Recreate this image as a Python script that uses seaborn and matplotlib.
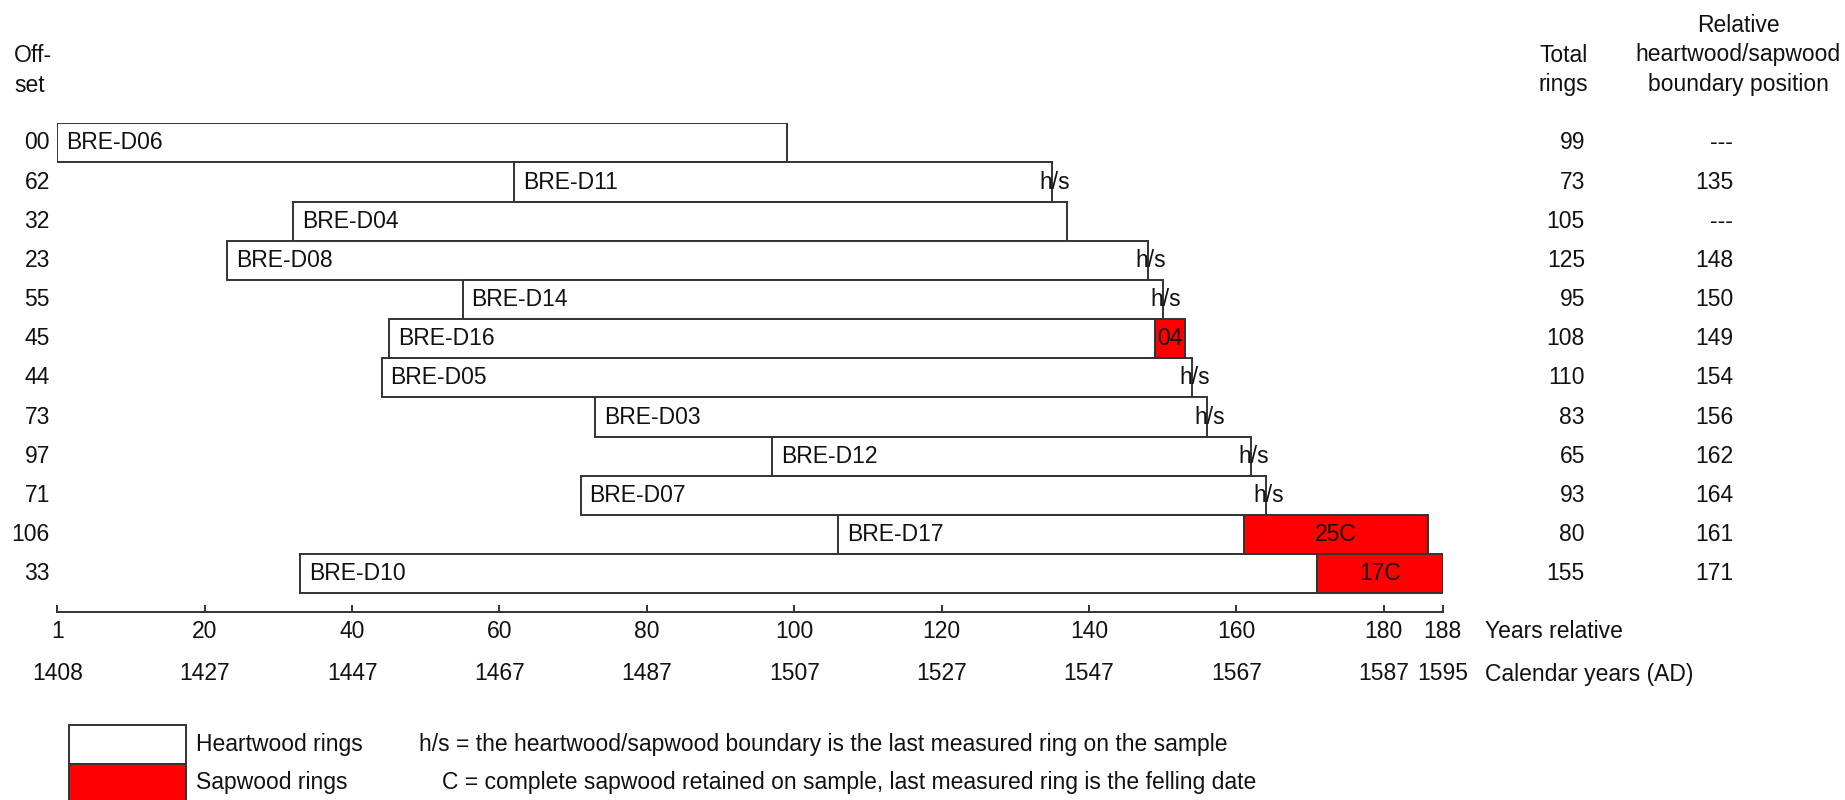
import matplotlib
matplotlib.use('Agg')
import matplotlib.pyplot as plt
from matplotlib.patches import Rectangle
import seaborn as sns

# samples, top to bottom
names = ['BRE-D06', 'BRE-D11', 'BRE-D04', 'BRE-D08', 'BRE-D14', 'BRE-D16',
         'BRE-D05', 'BRE-D03', 'BRE-D12', 'BRE-D07', 'BRE-D17', 'BRE-D10']
offsets = [0, 62, 32, 23, 55, 45, 44, 73, 97, 71, 106, 33]
total_rings = [99, 73, 105, 125, 95, 108, 110, 83, 65, 93, 80, 155]
# relative heartwood/sapwood boundary (None = not present)
boundary = [None, 135, None, 148, 150, 149, 154, 156, 162, 164, 161, 171]
complete_sapwood = [False, False, False, False, False, False,
                    False, False, False, False, True, True]

rel_ticks = [1, 20, 40, 60, 80, 100, 120, 140, 160, 180, 188]
cal_years = [1408, 1427, 1447, 1467, 1487, 1507, 1527, 1547, 1567, 1587, 1595]

W, H = 1845, 800
FS = 16.5
EDGE = '#333333'
TXT = '#111111'

sns.set_theme(style='white')
plt.rcParams['font.family'] = ['Liberation Sans', 'DejaVu Sans']
plt.rcParams['text.color'] = TXT

fig = plt.figure(figsize=(W / 100, H / 100), dpi=100)
fig.patch.set_facecolor('white')

# axes: x 0 -> 57px, 188 -> 1443px ; rows from 123px down to the axis line at 612px
ax = fig.add_axes([57.3 / W, 1 - 612 / H, 1385.4 / W, 488.7 / H])
ax.set_facecolor('none')
n = len(names)
rows = list(range(n))
row_px = 470.0 / n
ax.set_xlim(0, 188)
ax.set_ylim(n - 0.5 + (612 - 593.3) / row_px, -0.5)

ends = [o + t for o, t in zip(offsets, total_rings)]
heart_end = [b if b is not None else e for b, e in zip(boundary, ends)]

ax.barh(rows, [h - o for h, o in zip(heart_end, offsets)], left=offsets,
        height=1.0, color='white', edgecolor=EDGE, linewidth=1.4)

for i in rows:
    sap = ends[i] - heart_end[i]
    if sap > 0:
        ax.barh(i, sap, left=heart_end[i], height=1.0, color='#ff0000',
                edgecolor=EDGE, linewidth=1.4)
        lab = '%02d' % sap + ('C' if complete_sapwood[i] else '')
        ax.text(heart_end[i] + sap / 2, i, lab, ha='center', va='center',
                fontsize=FS)
    elif boundary[i] is not None:
        ax.text(boundary[i] + 0.4, i, 'h/s', ha='center', va='center',
                fontsize=FS)
    ax.text(offsets[i] + 1.2, i, names[i], ha='left', va='center', fontsize=FS)
    ax.text(-1.0, i, '%02d' % offsets[i], ha='right', va='center',
            fontsize=FS, clip_on=False)
    ax.text(207.3, i, str(total_rings[i]), ha='right', va='center',
            fontsize=FS, clip_on=False)
    ax.text(227.4, i, str(boundary[i]) if boundary[i] is not None else '---',
            ha='right', va='center', fontsize=FS, clip_on=False)

# relative year axis
sns.despine(ax=ax, left=True, top=True, right=True)
ax.spines['bottom'].set_color(EDGE)
ax.spines['bottom'].set_linewidth(1.4)
tick_pos = [0 if t == 1 else t for t in rel_ticks]
ax.set_xticks(tick_pos)
ax.set_xticklabels([str(t) for t in rel_ticks])
ax.set_yticks([])
ax.tick_params(axis='x', direction='in', length=5, width=1.4, color=EDGE,
               pad=6, labelsize=FS, labelcolor=TXT, bottom=True)
ax.grid(False)

cal_y = -(674 - 612) / 488.7
for p, yr in zip(tick_pos, cal_years):
    ax.text(p, cal_y, str(yr), ha='center', va='center', fontsize=FS,
            transform=ax.get_xaxis_transform(), clip_on=False)

def fy(py):
    return 1 - py / H

fig.text(1485 / W, fy(632), 'Years relative', ha='left', va='center', fontsize=FS)
fig.text(1485 / W, fy(674), 'Calendar years (AD)', ha='left', va='center', fontsize=FS)

# column headers
fig.text(14 / W, fy(55), 'Off-', ha='left', va='center', fontsize=FS)
fig.text(14 / W, fy(85), 'set', ha='left', va='center', fontsize=FS)
fig.text(1588 / W, fy(55), 'Total', ha='right', va='center', fontsize=FS)
fig.text(1588 / W, fy(85), 'rings', ha='right', va='center', fontsize=FS)
fig.text(1738 / W, fy(25), 'Relative', ha='center', va='center', fontsize=FS)
fig.text(1738 / W, fy(55), 'heartwood/sapwood', ha='center', va='center', fontsize=FS)
fig.text(1738 / W, fy(85), 'boundary position', ha='center', va='center', fontsize=FS)

# key
fig.add_artist(Rectangle((69.3 / W, fy(764)), 116.4 / W, 39 / H,
                         transform=fig.transFigure, facecolor='white',
                         edgecolor=EDGE, linewidth=1.4))
fig.add_artist(Rectangle((69.3 / W, fy(803)), 116.4 / W, 39 / H,
                         transform=fig.transFigure, facecolor='#ff0000',
                         edgecolor=EDGE, linewidth=1.4))
fig.text(196 / W, fy(745), 'Heartwood rings', ha='left', va='center', fontsize=FS)
fig.text(196 / W, fy(783), 'Sapwood rings', ha='left', va='center', fontsize=FS)
fig.text(419 / W, fy(745),
         'h/s = the heartwood/sapwood boundary is the last measured ring on the sample',
         ha='left', va='center', fontsize=FS)
fig.text(442 / W, fy(783),
         'C = complete sapwood retained on sample, last measured ring is the felling date',
         ha='left', va='center', fontsize=FS)

fig.savefig('out.png', dpi=100, facecolor='white')
